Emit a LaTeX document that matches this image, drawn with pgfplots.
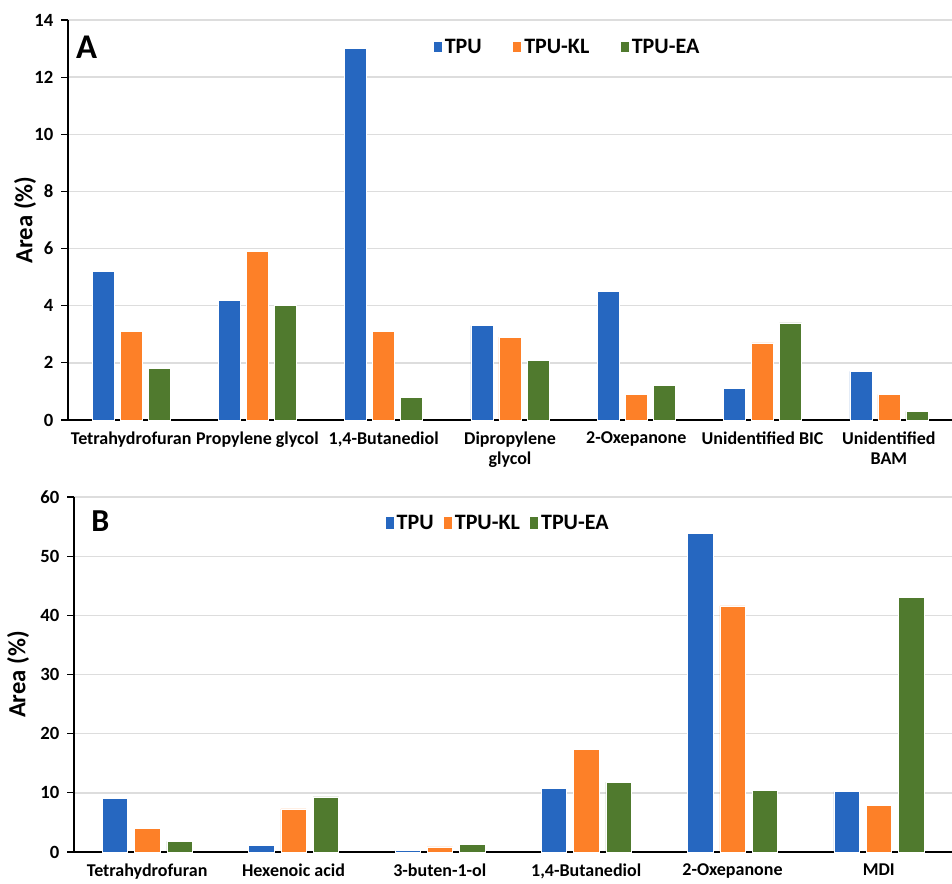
\documentclass[border=0pt]{standalone}
\usepackage{fontspec}
\setmainfont{Carlito}
\usepackage{pgfplots}
\pgfplotsset{compat=1.18}
\definecolor{cblue}{HTML}{2667C0}
\definecolor{corange}{HTML}{FD8028}
\definecolor{cgreen}{HTML}{507A2E}
\definecolor{gridgray}{HTML}{DDDDDD}

\pgfplotstableread{
x  TPU  KL   EA
0  5.2  3.1  1.8
1  4.2  5.9  4.0
2  13.0 3.1  0.8
3  3.3  2.9  2.1
4  4.5  0.9  1.2
5  1.1  2.7  3.4
6  1.7  0.9  0.3
}\tableA

\pgfplotstableread{
x  TPU  KL   EA
0  9.1  4.05 1.8
1  1.1  7.3  9.3
2  0.3  0.85 1.35
3  10.7 17.3 11.8
4  53.8 41.6 10.4
5  10.2 7.9  43.0
}\tableB

\pgfplotsset{
  common/.style={
    scale only axis,
    axis x line*=bottom,
    axis y line*=left,
    ymin=0,
    ymajorgrids,
    grid style={gridgray, line width=1pt},
    x axis line style={line width=1.5pt, black},
    y axis line style={line width=0.9pt, black},
    xtick style={draw=none},
    ytick style={black, line width=0.9pt},
    tick align=outside,
    major tick length=5pt,
    /pgf/number format/assume math mode=true,
    yticklabel style={font=\bfseries\fontsize{14}{16}\selectfont, xshift=-2.5pt},
    xticklabel style={font=\bfseries\fontsize{13.5}{15}\selectfont, align=center},
    ylabel style={font=\bfseries\fontsize{18.5}{20}\selectfont},
    legend style={draw=none, fill=none, font=\bfseries\fontsize{16.5}{18}\selectfont,
      legend columns=3},
  },
  sqA/.style={legend image code/.code={\fill[fill=#1] (0pt,-4pt) rectangle (6.5pt,4pt);}},
  sqB/.style={legend image code/.code={\fill[fill=#1] (0pt,-5pt) rectangle (6.5pt,5pt);}},
}

\begin{document}
\begin{tikzpicture}
\path[use as bounding box] (-51pt,-347.25pt) rectangle (663pt,315pt);

% ---------- Panel A ----------
\begin{axis}[common,
  at={(0pt,0pt)}, anchor=south west,
  width=663pt, height=300pt,
  ymax=14, ytick={0,2,...,14},
  xmin=-0.5, xmax=6.5,
  xtick={0,...,6},
  xticklabels={Tetrahydrofuran, Propylene glycol, {1,4-Butanediol}, {Dipropylene\\glycol}, 2-Oxepanone, Unidentified BIC, {Unidentified\\BAM}},
  ybar=4.5pt, bar width=16.5pt,
  ylabel={Area (\%)},
  ylabel style={at={(axis description cs:-0.0486,0.5)}, anchor=center},
  legend style={at={(0.565,0.9325)}, anchor=center,
    /tikz/every even column/.append style={column sep=21pt},
    /tikz/every odd column/.append style={column sep=0pt}},
]
\addplot[fill=cblue, draw=white, line width=0.4pt, sqA=cblue] table[x=x,y=TPU]{\tableA};
\addplot[fill=corange, draw=white, line width=0.4pt, sqA=corange] table[x=x,y=KL]{\tableA};
\addplot[fill=cgreen, draw=white, line width=0.4pt, sqA=cgreen] table[x=x,y=EA]{\tableA};
\legend{TPU,TPU-KL,TPU-EA}
\node[font=\bfseries\fontsize{26}{28}\selectfont] at (axis description cs:0.021,0.9325) {A};
\end{axis}

% ---------- Panel B ----------
\begin{axis}[common,
  at={(4.5pt,-324pt)}, anchor=south west,
  width=658.5pt, height=266.25pt,
  ymax=60, ytick={0,10,...,60},
  xmin=-0.5, xmax=5.5,
  xtick={0,...,5},
  xticklabels={Tetrahydrofuran, Hexenoic acid, 3-buten-1-ol, {1,4-Butanediol}, 2-Oxepanone, MDI},
  ybar=5.3pt, bar width=19pt,
  ylabel={Area (\%)},
  ylabel style={at={(axis description cs:-0.0638,0.5)}, anchor=center},
  legend style={at={(0.483,0.927)}, anchor=center,
    /tikz/every even column/.append style={column sep=5pt},
    /tikz/every odd column/.append style={column sep=0pt}},
]
\addplot[fill=cblue, draw=white, line width=0.4pt, sqB=cblue] table[x=x,y=TPU]{\tableB};
\addplot[fill=corange, draw=white, line width=0.4pt, sqB=corange] table[x=x,y=KL]{\tableB};
\addplot[fill=cgreen, draw=white, line width=0.4pt, sqB=cgreen] table[x=x,y=EA]{\tableB};
\legend{TPU,TPU-KL,TPU-EA}
\node[font=\bfseries\fontsize{24}{26}\selectfont] at (axis description cs:0.030,0.932) {B};
\end{axis}
\end{tikzpicture}
\end{document}
